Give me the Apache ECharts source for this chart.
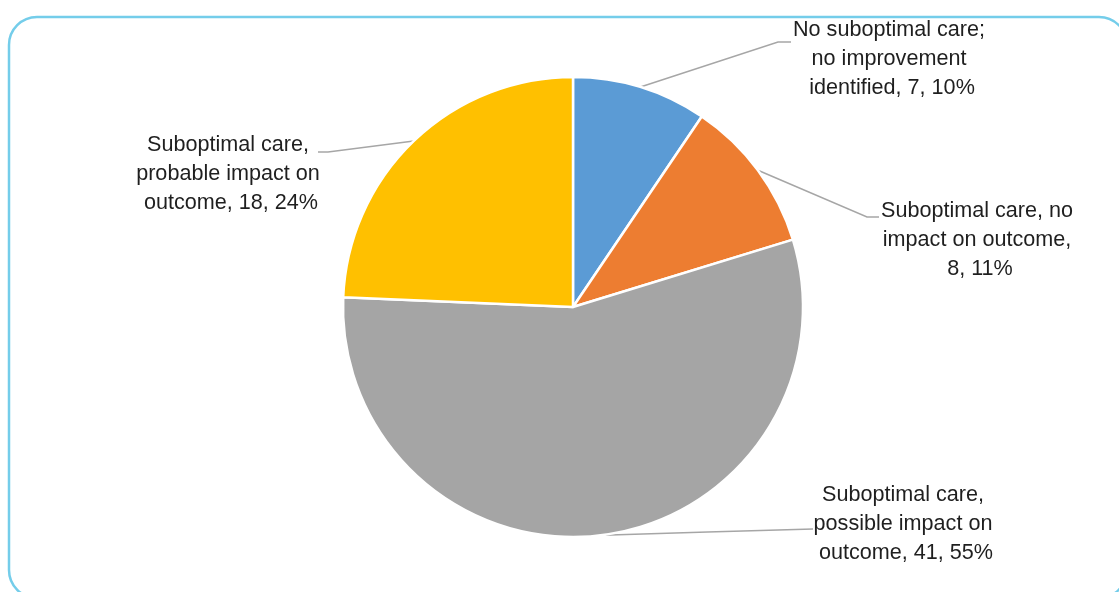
<!DOCTYPE html>
<html>
<head>
<meta charset="utf-8">
<script src="https://cdn.jsdelivr.net/npm/echarts@6/dist/echarts.min.js"></script>
<style>html,body{margin:0;padding:0;background:#fff}#c{width:1119px;height:592px}</style>
</head>
<body>
<div id="c"></div>
<script>
var categories = [
  'No suboptimal care; no improvement identified',
  'Suboptimal care, no impact on outcome',
  'Suboptimal care, possible impact on outcome',
  'Suboptimal care, probable impact on outcome'
];
var values = [7, 8, 41, 18];
var percentLabels = ['10%', '11%', '55%', '24%'];
var colors = ['#5B9BD5', '#ED7D31', '#A5A5A5', '#FFC000'];

// label block centres and leader-line elbow/end (layout only)
var labelPos = [
  {x: 892, y: 59, elbow: [778, 42], end: [791, 42]},
  {x: 980, y: 240, elbow: [867, 217], end: [879, 217]},
  {x: 906, y: 524, elbow: [708, 533], end: [813, 529]},
  {x: 231, y: 174, elbow: [328, 152], end: [318, 152]}
];

var chart = echarts.init(document.getElementById('c'));
var data = categories.map(function (n, i) {
  return {name: n, value: values[i], itemStyle: {color: colors[i]}};
});
chart.setOption({
  animation: false,
  graphic: [{
    type: 'rect',
    shape: {x: 9, y: 17, width: 1118, height: 581, r: 28},
    style: {fill: 'none', stroke: '#74CDEA', lineWidth: 2.5},
    silent: true,
    z: -1
  }],
  series: [{
    type: 'pie',
    center: [573, 307],
    radius: 230,
    startAngle: 90,
    clockwise: true,
    avoidLabelOverlap: false,
    data: data,
    itemStyle: {borderColor: '#ffffff', borderWidth: 2.5},
    label: {
      show: true,
      position: 'outside',
      formatter: function (p) {
        return p.name + ', ' + p.value + ', ' + percentLabels[p.dataIndex];
      },
      fontFamily: 'Liberation Sans',
      fontSize: 21.6,
      lineHeight: 29,
      color: '#1f1f1f',
      width: 200,
      overflow: 'break',
      align: 'center'
    },
    labelLine: {
      show: true,
      length: 20,
      length2: 20,
      lineStyle: {color: '#A6A6A6', width: 1.5}
    },
    labelLayout: function (params) {
      var lp = labelPos[params.dataIndex];
      var start = params.labelLinePoints ? params.labelLinePoints[0] : lp.elbow;
      var elbow = lp.elbow;
      if (params.dataIndex === 2) {
        elbow = [(start[0] + lp.end[0]) / 2, (start[1] + lp.end[1]) / 2];
      }
      return {
        x: lp.x,
        y: lp.y,
        align: 'center',
        verticalAlign: 'middle',
        labelLinePoints: [start, elbow, lp.end]
      };
    }
  }]
});
</script>
</body>
</html>
